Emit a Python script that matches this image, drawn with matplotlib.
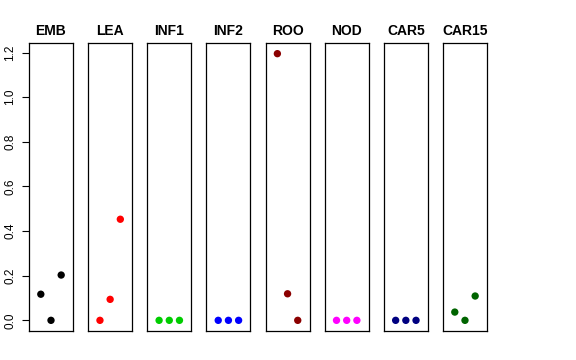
import matplotlib
matplotlib.use("Agg")
import matplotlib.pyplot as plt

plt.rcParams["font.family"] = ["Liberation Sans", "DejaVu Sans"]

tissues = ["EMB", "LEA", "INF1", "INF2", "ROO", "NOD", "CAR5", "CAR15"]
colors = ["black", "red", "#00CD00", "blue", "#8B0000", "magenta", "#000080", "#006400"]
reps = [1, 2, 3]

emb = [0.117, 0.0, 0.203]
lea = [0.0, 0.094, 0.453]
inf1 = [0.0, 0.0, 0.0]
inf2 = [0.0, 0.0, 0.0]
roo = [1.195, 0.119, 0.0]
nod = [0.0, 0.0, 0.0]
car5 = [0.0, 0.0, 0.0]
car15 = [0.037, 0.0, 0.109]
values = [emb, lea, inf1, inf2, roo, nod, car5, car15]

W, H = 576, 360
fig = plt.figure(figsize=(W / 100, H / 100), dpi=100)

ymax = max(max(v) for v in values)
pad = ymax * 0.04

for i, (name, col, vals) in enumerate(zip(tissues, colors, values)):
    left = 29 + i * 59.14
    ax = fig.add_axes([left / W, 29 / H, 44 / W, 288 / H])
    ax.scatter(reps, vals, s=28, color=col, edgecolors="none", zorder=3)
    ax.set_xlim(-0.16, 4.16)
    ax.set_ylim(-pad, ymax + pad)
    ax.set_xticks([])
    for s in ax.spines.values():
        s.set_linewidth(0.9)
        s.set_color("black")
    ax.set_title(name, fontsize=10, fontweight="bold", pad=6)
    if i == 0:
        ax.set_yticks([0.0, 0.2, 0.4, 0.6, 0.8, 1.0, 1.2])
        ax.set_yticklabels(["0.0", "0.2", "0.4", "0.6", "0.8", "1.0", "1.2"],
                           rotation=90, va="center", fontsize=8.5)
        ax.tick_params(axis="y", length=5, width=0.8, pad=4)
    else:
        ax.set_yticks([])

fig.savefig("out.png", dpi=100)
